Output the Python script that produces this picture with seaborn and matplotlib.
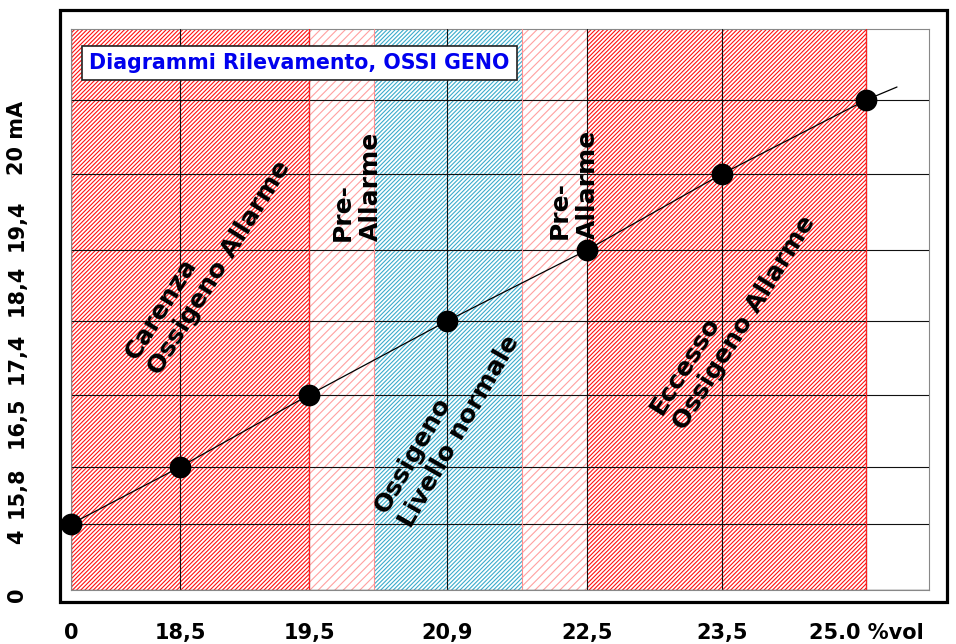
import matplotlib
matplotlib.use('Agg')
import matplotlib.pyplot as plt
import matplotlib.transforms as mtransforms
from matplotlib.patches import Rectangle
import pandas as pd
import seaborn as sns

# x axis: % vol O2 labels and where they sit on the chart's (irregular) scale
x_labels = ['0', '18,5', '19,5', '20,9', '22,5', '23,5', '25.0 %vol']
x_at = [0, 1.09, 2.38, 3.76, 5.16, 6.51, 7.95]

# y axis: mA labels and their spots on the chart scale
y_labels = ['0', '4', '15,8', '16,5', '17,4', '18,4', '19,4', '20 mA']
y_at = [0, 0.66, 1.23, 1.95, 2.69, 3.40, 4.16, 4.90]

# one reading per x label; the trend line runs a little past the last one
pts_x = x_at
pts_y = y_at[1:]
trend_x = x_at + [8.26]
trend_y = y_at[1:] + [5.03]

# bands along x
band_start = [0, 2.38, 3.03, 4.51, 5.16]
band_end = [2.38, 3.03, 4.51, 5.16, 7.95]
band_kind = ['alarm', 'pre', 'normal', 'pre', 'alarm']

title = 'Diagrammi Rilevamento, OSSI GENO'

sns.set_style('white')
plt.rcParams['font.family'] = ['DejaVu Sans']
plt.rcParams['text.color'] = 'black'
plt.rcParams['xtick.labelcolor'] = 'black'
plt.rcParams['hatch.linewidth'] = 0.8

fig = plt.figure(figsize=(9.56, 6.44), dpi=100)
ax = fig.add_axes([71 / 956, 54 / 644, 858 / 956, 561 / 644])
ax.set_xlim(0, 8.58)
ax.set_ylim(0, 5.61)

hatch_col = {'alarm': '#ff1010', 'pre': '#ffa0a0', 'normal': '#3aaccc'}
hatch_pat = {'alarm': '////////', 'pre': '////', 'normal': '////////'}
for a, b, k in zip(band_start, band_end, band_kind):
    ax.axvspan(a, b, facecolor='white', edgecolor=hatch_col[k],
               hatch=hatch_pat[k], linewidth=0, zorder=1)

# grid + ticks
ax.set_axisbelow(False)
ax.set_xticks(x_at, x_labels)
ax.set_yticks(y_at, [''] * len(y_at))
ax.grid(True, color='#111111', lw=0.8)
ax.tick_params(axis='x', length=14.5, width=0.8, color='#222222', pad=9,
               labelsize=15, labelcolor='black')
ax.tick_params(axis='y', length=18, width=0.8, color='#111111')
for lab in ax.get_xticklabels():
    lab.set_fontweight('bold')

# region border lines
ax.axvline(0, color='#888888', lw=0.9, zorder=2.6)
for xv in [2.38, 7.95]:
    ax.axvline(xv, color='#ff2020', lw=0.9, zorder=2.6)
for xv in [3.03, 4.51]:
    ax.axvline(xv, color='#ff9090', lw=0.8, zorder=2.6)
ax.axhline(0, color='#777777', lw=1.0, zorder=2.6)

for side in ['top', 'right', 'left', 'bottom']:
    ax.spines[side].set_color('#888888')
    ax.spines[side].set_linewidth(0.8)

# longer gray tick for the zero line
t0 = ax.yaxis.get_major_ticks()[0]
t0.tick1line.set_markersize(24)
t0.tick1line.set_color('#777777')

# rotated y labels, each sits a bit below its line
y_shift = [5, 13, 25, 27, 37, 40, 51, 38]
blend = mtransforms.blended_transform_factory(ax.transAxes, ax.transData)
for val, lab, sh in zip(y_at, y_labels, y_shift):
    tr = blend + mtransforms.ScaledTranslation(0, -sh / 100, fig.dpi_scale_trans)
    ax.text(-0.0629, val, lab, transform=tr, rotation=90, ha='center',
            va='center', fontsize=15, fontweight='bold', color='black',
            clip_on=False)

# readings
df = pd.DataFrame({'x': trend_x, 'y': trend_y})
sns.lineplot(data=df, x='x', y='y', color='black', lw=0.9, ax=ax, zorder=3)
pts = pd.DataFrame({'x': pts_x, 'y': pts_y})
sns.scatterplot(data=pts, x='x', y='y', s=210, color='black',
                edgecolor='black', ax=ax, zorder=4, clip_on=False)
ax.set_xlabel('')
ax.set_ylabel('')

# band texts
kw = dict(fontsize=18, fontweight='bold', ha='center', va='center',
          multialignment='left', linespacing=1.2, color='black', zorder=5)
ax.text(1.37, 3.30, 'Carenza\nOssigeno Allarme', rotation=58, **kw)
ax.text(2.86, 4.04, 'Pre-\nAllarme', rotation=90, **kw)
ax.text(5.03, 4.06, 'Pre-\nAllarme', rotation=90, **kw)
ax.text(3.76, 1.66, 'Ossigeno\nLivello normale', rotation=60, **kw)
ax.text(6.62, 2.75, 'Eccesso\nOssigeno Allarme', rotation=58, **kw)

# title box
ax.text(0.18, 5.27, title, color='#0000ee', fontsize=14.8, fontweight='bold',
        ha='left', va='center', zorder=6,
        bbox=dict(boxstyle='square,pad=0.35', fc='white', ec='#222222', lw=1.2))

# outer frame
fig.add_artist(Rectangle((60 / 956, 42 / 644), 887 / 956, 592 / 644,
                         transform=fig.transFigure, fill=False,
                         lw=2.3, ec='black', zorder=10))

fig.savefig('out.png', dpi=100)
